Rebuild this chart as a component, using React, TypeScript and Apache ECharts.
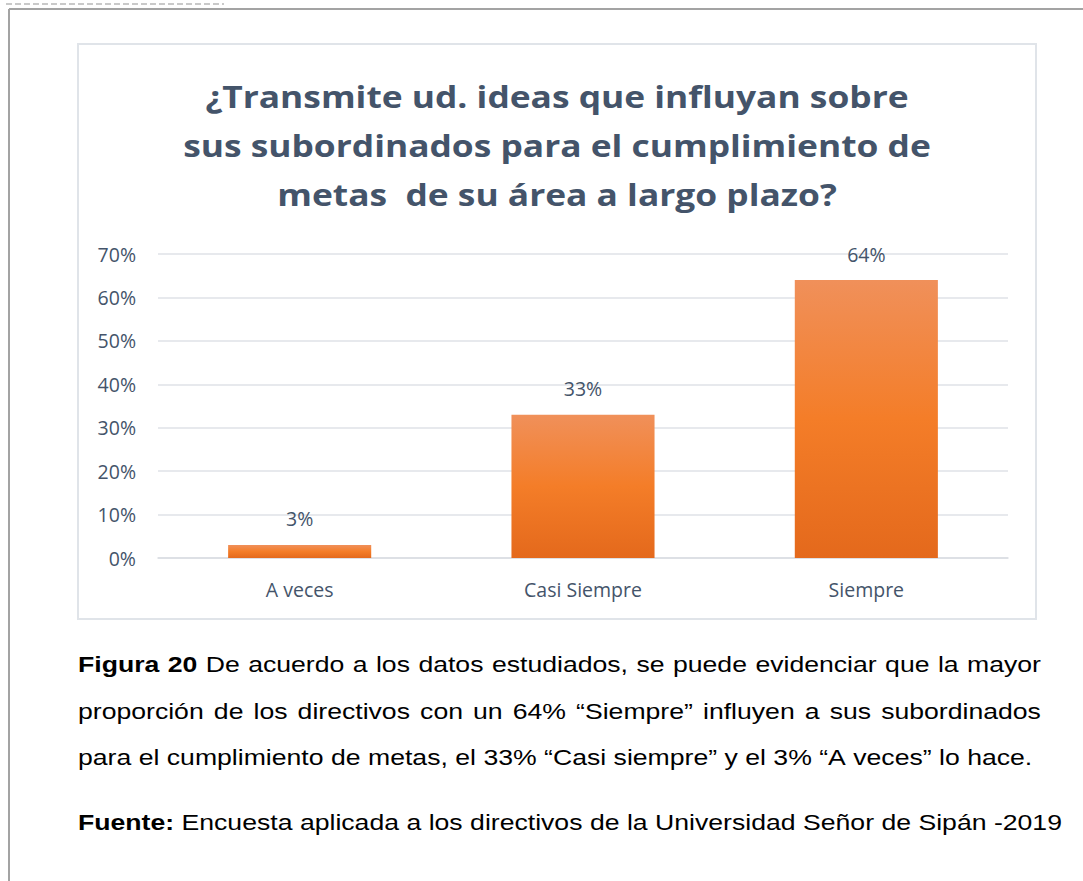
import React, { useEffect, useRef } from "react";
import * as echarts from "echarts";

const categories = ["A veces", "Casi Siempre", "Siempre"];
const values = [0.03, 0.33, 0.64];
const yMin = 0;
const yMax = 0.7;
const yInterval = 0.1;

const titleLines = [
  "¿Transmite ud. ideas que influyan sobre",
  "sus subordinados para el cumplimiento de",
  "metas  de su área a largo plazo?",
];

const captionLines = [
  { bold: "Figura 20", text: "De acuerdo a los datos estudiados, se puede evidenciar que la mayor", justify: true },
  { bold: "", text: "proporción de los directivos con un 64% “Siempre” influyen a sus subordinados", justify: true },
  { bold: "", text: "para el cumplimiento de metas, el 33% “Casi siempre” y el 3% “A veces” lo hace.", justify: false },
];
const sourceLine = { bold: "Fuente:", text: "Encuesta aplicada a los directivos de la Universidad Señor de Sipán -2019", justify: false };

const CAP_FONT = "Liberation Sans";
const CAP_SIZE = 22;
const CAP_SCALE = 1.21;

function measure(ctx: CanvasRenderingContext2D, s: string, bold: boolean) {
  ctx.font = `${bold ? "bold " : ""}${CAP_SIZE}px "${CAP_FONT}"`;
  return ctx.measureText(s).width * CAP_SCALE;
}

function lineElements(ctx: CanvasRenderingContext2D, line: any, y: number, left: number, right: number) {
  const words: { t: string; b: boolean }[] = [];
  line.bold.split(" ").filter((w: string) => w).forEach((w: string) => words.push({ t: w, b: true }));
  line.text.split(" ").filter((w: string) => w).forEach((w: string) => words.push({ t: w, b: false }));
  const widths = words.map((w) => measure(ctx, w.t, w.b));
  const total = widths.reduce((a, b) => a + b, 0);
  const space = measure(ctx, " ", false);
  const gap = line.justify && words.length > 1 ? (right - left - total) / (words.length - 1) : space;
  const els: any[] = [];
  let x = left;
  words.forEach((w, i) => {
    els.push({
      type: "text",
      x,
      y,
      scaleX: CAP_SCALE,
      style: {
        text: w.t,
        fontFamily: CAP_FONT,
        fontSize: CAP_SIZE,
        fontWeight: w.b ? "bold" : "normal",
        fill: "#000000",
        textVerticalAlign: "middle",
        verticalAlign: "middle",
      },
    });
    x += widths[i] + gap;
  });
  return els;
}

export default function App() {
  const ref = useRef<HTMLDivElement>(null);
  useEffect(() => {
    if (!ref.current) return;
    const chart = echarts.init(ref.current, null, { renderer: "svg" });
    const canvas = document.createElement("canvas");
    const ctx = canvas.getContext("2d") as CanvasRenderingContext2D;

    const capEls: any[] = [];
    const capY = [664, 711, 757];
    captionLines.forEach((l, i) => capEls.push(...lineElements(ctx, l, capY[i], 78, 1041)));
    capEls.push(...lineElements(ctx, sourceLine, 822, 78, 1062));

    const labelColor = "#44546a";
    chart.setOption({
      animation: false,
      grid: { left: 158, right: 75, top: 254, bottom: 323 },
      xAxis: {
        type: "category",
        data: categories,
        axisLine: { show: true, lineStyle: { color: "#dadde2", width: 1.5 } },
        axisTick: { show: false },
        axisLabel: { color: labelColor, fontFamily: "Open Sans", fontSize: 19.5, margin: 21 },
      },
      yAxis: {
        type: "value",
        min: yMin,
        max: yMax,
        interval: yInterval,
        axisLine: { show: false },
        axisTick: { show: false },
        splitLine: { lineStyle: { color: "#dfe2e7", width: 1.5 } },
        axisLabel: {
          color: labelColor,
          fontFamily: "Open Sans",
          fontSize: 19.5,
          margin: 22,
          formatter: (v: number) => `${Math.round(v * 100)}%`,
        },
      },
      series: [
        {
          type: "bar",
          data: values,
          barWidth: "50.5%",
          itemStyle: {
            color: new echarts.graphic.LinearGradient(0, 0, 0, 1, [
              { offset: 0, color: "#f0905a" },
              { offset: 0.5, color: "#f47d28" },
              { offset: 1, color: "#e4691c" },
            ]),
          },
          label: {
            show: true,
            position: "top",
            distance: 16,
            color: labelColor,
            fontFamily: "Open Sans",
            fontSize: 19.5,
            formatter: (p: any) => `${Math.round(p.value * 100)}%`,
          },
        },
      ],
      graphic: [
        {
          type: "line",
          shape: { x1: 9, y1: 9, x2: 1083, y2: 9 },
          style: { stroke: "#a3a3a3", lineWidth: 2 },
          z: 0,
        },
        {
          type: "line",
          shape: { x1: 9, y1: 9, x2: 9, y2: 881 },
          style: { stroke: "#a3a3a3", lineWidth: 2 },
          z: 0,
        },
        {
          type: "line",
          shape: { x1: 6, y1: 4, x2: 224, y2: 4 },
          style: { stroke: "#b8b8b8", lineWidth: 1.5, lineDash: [6, 3] },
          z: 0,
        },
        {
          type: "rect",
          shape: { x: 78, y: 44, width: 958, height: 575 },
          style: { fill: "none", stroke: "#e0e4e9", lineWidth: 2 },
          z: -1,
        },
        {
          type: "text",
          x: 557,
          y: 145,
          scaleX: 1.14,
          style: {
            text: titleLines.join("\n"),
            fontFamily: "Open Sans",
            fontWeight: "bold",
            fontSize: 31,
            lineHeight: 49,
            fill: "#44546a",
            align: "center",
            textAlign: "center",
            verticalAlign: "middle",
            textVerticalAlign: "middle",
          },
        },
        ...capEls,
      ],
    });
    return () => chart.dispose();
  }, []);
  return (
    <div
      ref={ref}
      style={{ position: "absolute", left: 0, top: 0, width: 1083, height: 881, background: "#ffffff" }}
    />
  );
}
